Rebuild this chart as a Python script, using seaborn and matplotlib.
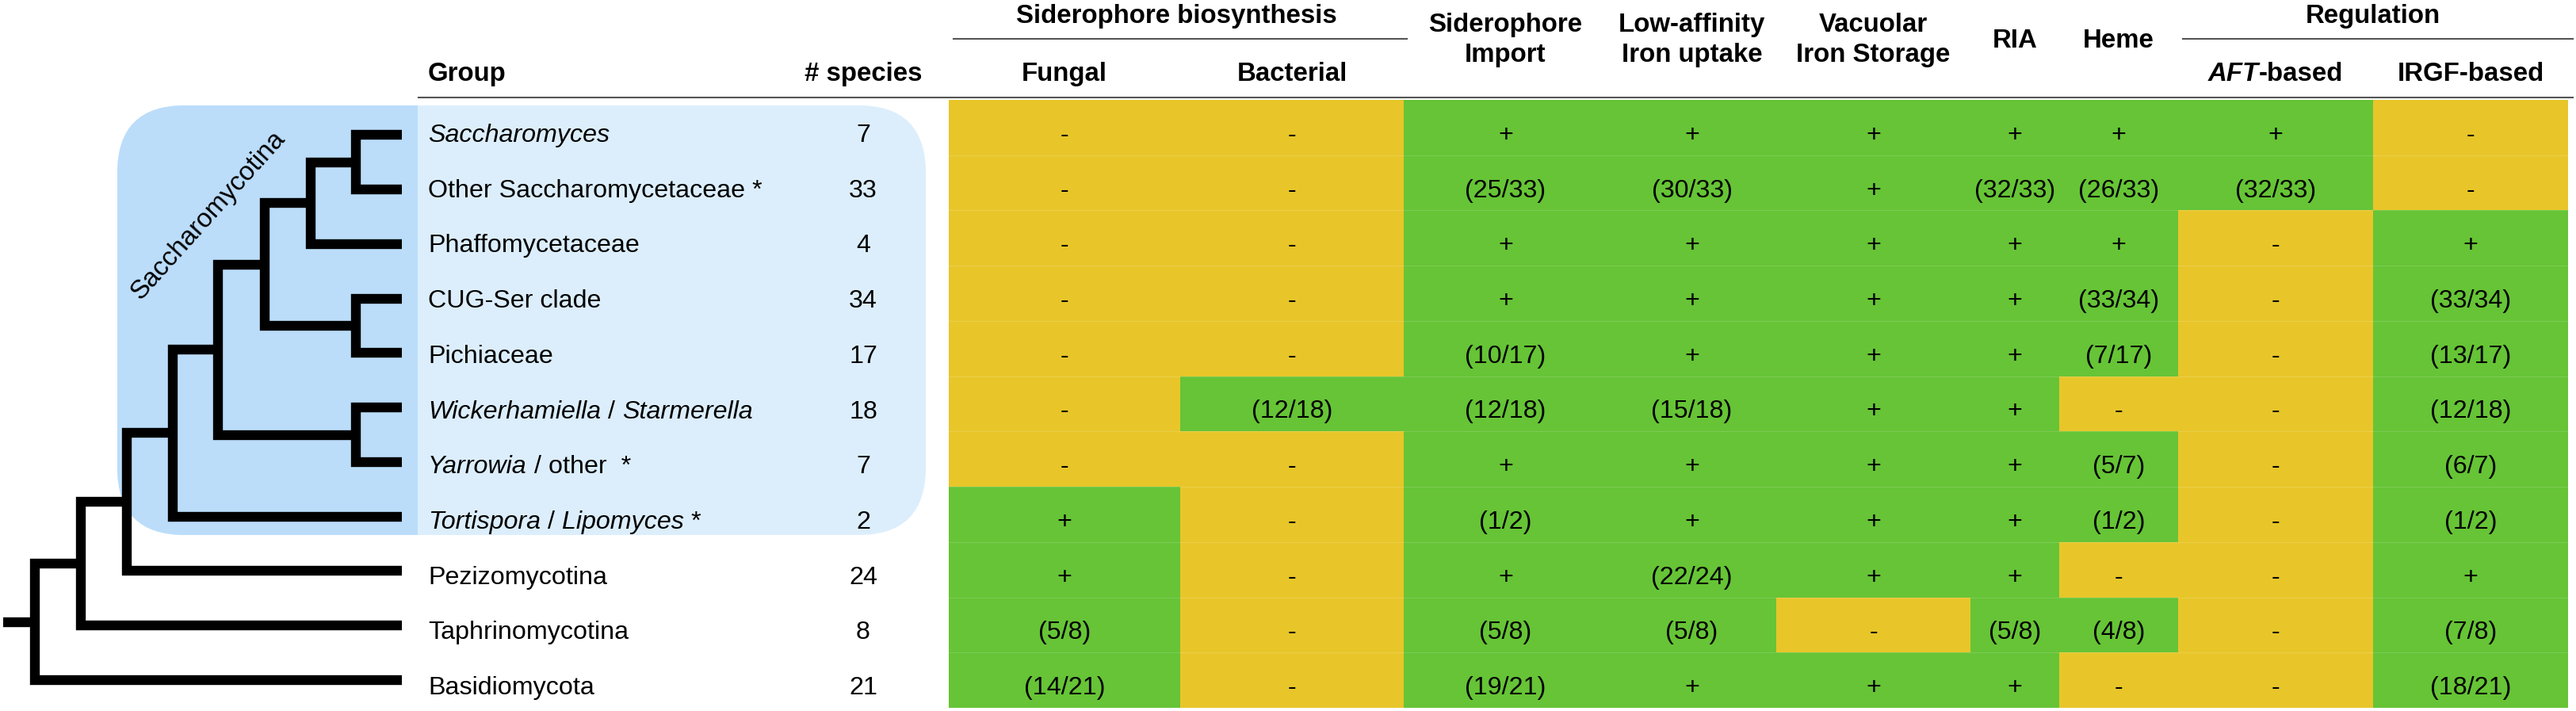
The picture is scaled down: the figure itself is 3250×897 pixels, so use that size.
import numpy as np
import matplotlib
matplotlib.use("Agg")
import matplotlib.pyplot as plt
from matplotlib.colors import ListedColormap
from matplotlib.patches import FancyBboxPatch, Rectangle
import seaborn as sns

plt.rcParams['font.family'] = ['Liberation Sans', 'DejaVu Sans']

# ---------------- data ----------------
groups = ["Saccharomyces", "Other Saccharomycetaceae *", "Phaffomycetaceae",
          "CUG-Ser clade", "Pichiaceae", "Wickerhamiella / Starmerella",
          "Yarrowia / other *", "Tortispora / Lipomyces *", "Pezizomycotina",
          "Taphrinomycotina", "Basidiomycota"]
n_species = [7, 33, 4, 34, 17, 18, 7, 2, 24, 8, 21]

col_headers = ["Fungal", "Bacterial", "Siderophore\nImport", "Low-affinity\nIron uptake",
               "Vacuolar\nIron Storage", "RIA", "Heme", "AFT-based", "IRGF-based"]

fungal     = ["-", "-", "-", "-", "-", "-", "-", "+", "+", "(5/8)", "(14/21)"]
bacterial  = ["-", "-", "-", "-", "-", "(12/18)", "-", "-", "-", "-", "-"]
sid_import = ["+", "(25/33)", "+", "+", "(10/17)", "(12/18)", "+", "(1/2)", "+", "(5/8)", "(19/21)"]
low_aff    = ["+", "(30/33)", "+", "+", "+", "(15/18)", "+", "+", "(22/24)", "(5/8)", "+"]
vacuolar   = ["+", "+", "+", "+", "+", "+", "+", "+", "+", "-", "+"]
ria        = ["+", "(32/33)", "+", "+", "+", "+", "+", "+", "+", "(5/8)", "+"]
heme       = ["+", "(26/33)", "+", "(33/34)", "(7/17)", "-", "(5/7)", "(1/2)", "-", "(4/8)", "-"]
aft        = ["+", "(32/33)", "-", "-", "-", "-", "-", "-", "-", "-", "-"]
irgf       = ["-", "-", "+", "(33/34)", "(13/17)", "(12/18)", "(6/7)", "(1/2)", "+", "(7/8)", "(18/21)"]

table = [fungal, bacterial, sid_import, low_aff, vacuolar, ria, heme, aft, irgf]

# phylogeny: (node depth x, left, right); leaves are row indices
tree = (44, (102, (160, (218, (275, (334, (392, (449, 0, 1), 2), (449, 3, 4)),
                                  (449, 5, 6)), 7), 8), 9), 10)

# ---------------- layout ----------------
W, H = 3250, 897
fig = plt.figure(figsize=(W / 100, H / 100), dpi=100)
bg = fig.add_axes([0, 0, 1, 1])
bg.set_xlim(0, W)
bg.set_ylim(H, 0)
bg.axis('off')
bg.set_zorder(2)
bg.patch.set_alpha(0)

YELLOW = "#E8C62A"
GREEN = "#66C436"
BLUE_D = "#BBDDFA"
BLUE_L = "#DCEEFC"

fs_body = 23.2
fs_head = 23.8

col_w = [292, 282, 257, 213, 245, 112, 150, 246, 246]
x0_tab = 1197
y_top, y_bot = 126, 893
nrows = len(groups)
row_h = (y_bot - y_top) / nrows
row_c = [y_top + (i + 0.5) * row_h for i in range(nrows)]
edges = np.concatenate([[x0_tab], x0_tab + np.cumsum(col_w)])
col_c = (edges[:-1] + edges[1:]) / 2

# ---------------- heatmap (seaborn) ----------------
presence = np.array([[0 if v == "-" else 1 for v in col] for col in table]).T
mat = np.repeat(presence, col_w, axis=1)
hm = fig.add_axes([x0_tab / W, 1 - y_bot / H, sum(col_w) / W, (y_bot - y_top) / H])
hm.set_zorder(1)
sns.heatmap(mat, cmap=ListedColormap([YELLOW, GREEN]), vmin=0, vmax=1, cbar=False,
            xticklabels=False, yticklabels=False, ax=hm)
hm.axis('off')
bg.hlines([y_top + k * row_h for k in range(1, nrows)], edges[0], edges[-1],
          color='white', alpha=0.15, lw=0.8)

# cell texts
for j, col in enumerate(table):
    for i, v in enumerate(col):
        bg.text(col_c[j], row_c[i] + 18, v, ha='center', va='baseline', fontsize=fs_body)

# ---------------- Saccharomycotina box ----------------
box_kw = dict(boxstyle="round,pad=0,rounding_size=85", linewidth=0)
light = FancyBboxPatch((148, 133), 1020, 542, facecolor=BLUE_L, zorder=0, **box_kw)
bg.add_patch(light)
dark = FancyBboxPatch((148, 133), 1020, 542, facecolor=BLUE_D, zorder=0.5, **box_kw)
bg.add_patch(dark)
clip = Rectangle((140, 120), 527 - 140, 600, transform=bg.transData)
dark.set_clip_path(clip)
bg.text(263, 272, "Saccharomycotina", rotation=48, ha='center', va='center',
        fontsize=24, zorder=3)

# ---------------- tree ----------------
tip_x = 507
tip_y = [170.5 + i * 68.75 for i in range(nrows)]
tree_lw = 8.9


def draw(node):
    if isinstance(node, int):
        return tip_x, tip_y[node]
    nx, a, b = node
    xa, ya = draw(a)
    xb, yb = draw(b)
    bg.plot([xa, nx, nx, xb], [ya, ya, yb, yb], color='black', lw=tree_lw,
            solid_joinstyle='miter', solid_capstyle='butt', zorder=4)
    return nx, (ya + yb) / 2


rx, ry = draw(tree)
bg.plot([4, rx], [ry, ry], color='black', lw=tree_lw, solid_capstyle='butt', zorder=4)

# ---------------- rich text helper ----------------
renderer = fig.canvas.get_renderer()


def text_width(s, **kw):
    t = bg.text(0, 0, s, **kw)
    w = t.get_window_extent(renderer).width
    t.remove()
    return w


def rich(x, y, parts, fontsize, ha='left', **common):
    sw = text_width("a a", fontsize=fontsize, **common) - text_width("aa", fontsize=fontsize, **common)
    segs = []
    total = 0.0
    for s, kw in parts:
        L = len(s) - len(s.lstrip(' '))
        core = s.strip(' ')
        T = len(s) - len(s.rstrip(' ')) if core else 0
        total += L * sw
        w = text_width(core, fontsize=fontsize, **common, **kw) if core else 0
        segs.append((total, core, kw))
        total += w + T * sw
    start = x if ha == 'left' else x - total / 2
    for off, core, kw in segs:
        if core:
            bg.text(start + off, y, core, ha='left', va='baseline', fontsize=fontsize,
                    zorder=5, **common, **kw)


IT = dict(fontstyle='italic')
RG = dict()
label_parts = {
    0: [("Saccharomyces", IT)],
    5: [("Wickerhamiella", IT), (" / ", RG), ("Starmerella", IT)],
    6: [("Yarrowia", IT), (" / other  *", RG)],
    7: [("Tortispora", IT), (" / ", RG), ("Lipomyces", IT), (" *", RG)],
}

label_x = 540
for i, g in enumerate(groups):
    y = row_c[i] + 18
    if i in label_parts:
        rich(label_x, y, label_parts[i], fs_body)
    else:
        bg.text(label_x, y, g, ha='left', va='baseline', fontsize=fs_body, zorder=5)
    bg.text(1089, y, str(n_species[i]), ha='center', va='baseline', fontsize=fs_body, zorder=5)

# ---------------- headers ----------------
hb = dict(fontsize=fs_head, fontweight='bold', zorder=5)
bg.text(label_x, 102, "Group", ha='left', va='baseline', **hb)
bg.text(1089, 102, "# species", ha='center', va='baseline', **hb)

for j, h in enumerate(col_headers):
    if j in (0, 1, 8):
        bg.text(col_c[j], 102, h, ha='center', va='baseline', **hb)
    elif j == 7:
        rich(col_c[j], 102, [("AFT", dict(fontstyle='italic')), ("-based", {})], fs_head,
             ha='center', fontweight='bold')
    elif "\n" in h:
        l1, l2 = h.split("\n")
        bg.text(col_c[j], 40, l1, ha='center', va='baseline', **hb)
        bg.text(col_c[j], 78, l2, ha='center', va='baseline', **hb)
    else:
        bg.text(col_c[j], 60, h, ha='center', va='baseline', **hb)

# spanning headers
bg.text((edges[0] + edges[2]) / 2, 29, "Siderophore biosynthesis", ha='center', va='baseline', **hb)
bg.text((edges[7] + edges[9]) / 2, 29, "Regulation", ha='center', va='baseline', **hb)
line_kw = dict(color='#555555', lw=1.5)
bg.plot([edges[0] + 6, edges[2] + 4], [49, 49], **line_kw)
bg.plot([edges[7] + 6, 3246], [49, 49], **line_kw)
bg.plot([528, 3246], [122.7, 122.7], **line_kw)

fig.savefig("out.png", dpi=100)
